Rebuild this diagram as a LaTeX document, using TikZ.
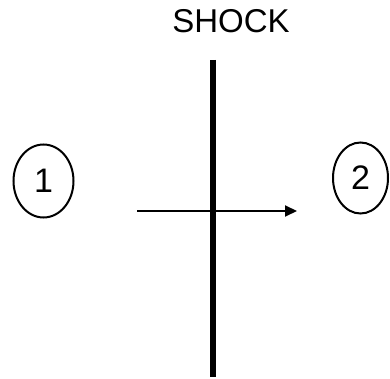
\documentclass[tikz,border=0pt]{standalone}
\usepackage{fontspec}
\setmainfont{Liberation Sans}
\usetikzlibrary{shapes.geometric,arrows.meta}
\begin{document}
\begin{tikzpicture}[x=1pt,y=-1pt,
  region/.style={draw,line width=2pt,ellipse,inner sep=0pt,font=\fontsize{34}{38}\selectfont},
  lbl/.style={font=\fontsize{33}{38}\selectfont,inner sep=0pt}]
\useasboundingbox (0,0) rectangle (390,379);
\node[lbl] (shock) at (231,21) {SHOCK};
\node[region,minimum width=60pt,minimum height=73pt] (r1) at (43.5,181) {1};
\node[region,minimum width=55pt,minimum height=71pt] (r2) at (360.5,178) {2};
\coordinate (ts) at (213,60);
\coordinate (bs) at (213,377);
\coordinate (a0) at (137,211);
\coordinate (a1) at (297,211);
\draw[line width=2pt,-{Triangle[length=12pt,width=11pt]}] (a0) -- (a1);
\draw[line width=5.5pt] (ts) -- (bs);
\end{tikzpicture}
\end{document}
